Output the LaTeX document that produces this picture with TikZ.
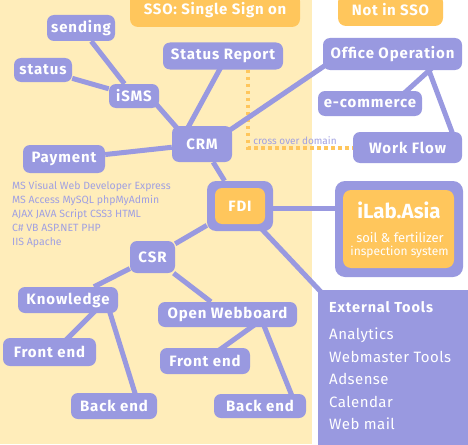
\documentclass[tikz,border=0pt]{standalone}
\usepackage{fontspec}
\setmainfont{Fira Sans}
\newfontfamily\lblfont{Fira Sans}[LetterSpace=6]
\newfontfamily\hdrfont{Fira Sans}[LetterSpace=5]
\newfontfamily\itemfont{Fira Sans}[LetterSpace=3]
\usetikzlibrary{backgrounds,calc}
\definecolor{pur}{HTML}{9999E0}
\definecolor{org}{HTML}{FFC65C}
\definecolor{ylw}{HTML}{FFEDBA}
\definecolor{techc}{HTML}{A0A0E2}
\begin{document}
\begin{tikzpicture}[x=1pt,y=-1pt,
  box/.style={fill=pur,rounded corners=7pt,inner sep=0pt,text=white,
    font=\lblfont\bfseries\fontsize{15}{15}\selectfont},
  hdr/.style={fill=org,rounded corners=8pt,inner sep=0pt,text=white,
    font=\hdrfont\bfseries\fontsize{15}{15}\selectfont},
  link/.style={draw=pur,line width=5pt},
  plain/.style={inner sep=0pt,text=white},
  tech/.style={inner sep=0pt,text=techc,font=\fontsize{10.5}{14}\selectfont,align=left}
]
\useasboundingbox (0,0) rectangle (468,444);
% header boxes
\node[hdr,minimum width=170pt,minimum height=34pt] (sso) at (215,10) {\raisebox{-3pt}{SSO: Single Sign on}};
\node[hdr,minimum width=105pt,minimum height=32pt] (notsso) at (390.5,10) {\raisebox{-3pt}{Not in SSO}};
% left nodes
\node[box,minimum width=68pt,minimum height=26pt] (sending) at (81,28) {sending};
\node[box,minimum width=58pt,minimum height=24pt] (status) at (43,70) {status};
\node[box,minimum width=50pt,minimum height=24pt] (isms) at (134,96) {iSMS};
\node[box,minimum width=120pt,minimum height=27pt] (statusreport) at (223,56) {Status Report};
\node[box,minimum width=60pt,minimum height=36pt] (crm) at (202,144) {CRM};
\node[box,minimum width=82pt,minimum height=28pt] (payment) at (64,159) {Payment};
\node[tech,anchor=north west] (techlist) at (12,181) {MS Visual Web Developer Express\\MS Access MySQL phpMyAdmin\\AJAX JAVA Script CSS3 HTML\\C\# VB ASP.NET PHP\\IIS Apache};
% right upper
\node[box,minimum width=139pt,minimum height=32pt] (office) at (392.5,54) {Office Operation};
\node[box,minimum width=104pt,minimum height=25pt] (ecom) at (370,103.5) {e-commerce};
\node[box,minimum width=109pt,minimum height=31pt] (workflow) at (407.5,147.5) {Work Flow};
\node[inner sep=0pt,text=techc,font=\fontsize{10}{10}\selectfont] (cod) at (295,141) {cross over domain};
% FDI
\node[fill=pur,rounded corners=9pt,minimum width=66pt,minimum height=50pt] (fdi) at (240,206) {};
\node[fill=org,rounded corners=7pt,minimum width=50pt,minimum height=36pt,inner sep=0pt,text=white,font=\lblfont\bfseries\fontsize{15}{15}\selectfont] (fdiin) at (240,206) {FDI};
% iLab
\node[fill=pur,rounded corners=10pt,minimum width=128pt,minimum height=96pt] (ilab) at (399,229) {};
\node[fill=org,rounded corners=8pt,minimum width=111pt,minimum height=78pt] (ilabin) at (398.5,229) {};
\node[plain,font=\bfseries\fontsize{20.5}{20.5}\selectfont] (ilabt) at (399,210) {iLab.Asia};
\node[plain,font=\fontsize{13}{13}\selectfont] (ilabs1) at (400,238) {soil \& fertilizer};
\node[plain,font=\fontsize{12}{12}\selectfont] (ilabs2) at (399.5,252) {inspection system};
% CSR tree
\node[box,minimum width=45pt,minimum height=32pt] (csr) at (152.5,257) {CSR};
\node[box,minimum width=100pt,minimum height=26pt] (knowledge) at (68,300) {Knowledge};
\node[box,minimum width=139pt,minimum height=25pt] (ow) at (227.5,314.5) {Open Webboard};
\node[box,minimum width=93pt,minimum height=28pt] (fel) at (49.5,352) {Front end};
\node[box,minimum width=90pt,minimum height=26pt] (fer) at (205,361) {Front end};
\node[box,minimum width=86pt,minimum height=26pt] (bel) at (114,406) {Back end};
\node[box,minimum width=92pt,minimum height=24pt] (ber) at (260,406) {Back end};
% External tools
\node[fill=pur,anchor=north west,minimum width=155pt,minimum height=160pt,inner sep=0pt] (ext) at (318,290) {};
\node[plain,anchor=west,font=\lblfont\bfseries\fontsize{14.5}{14.5}\selectfont] (extt) at (329,307) {External Tools};
\node[plain,anchor=west,font=\itemfont\fontsize{15}{15}\selectfont] (e1) at (329,335) {Analytics};
\node[plain,anchor=west,font=\itemfont\fontsize{15}{15}\selectfont] (e2) at (329,357) {Webmaster Tools};
\node[plain,anchor=west,font=\itemfont\fontsize{15}{15}\selectfont] (e3) at (329,379) {Adsense};
\node[plain,anchor=west,font=\itemfont\fontsize{15}{15}\selectfont] (e4) at (329,402) {Calendar};
\node[plain,anchor=west,font=\itemfont\fontsize{15}{15}\selectfont] (e5) at (329,424) {Web mail};
\begin{pgfonlayer}{background}
  \fill[white] (0,0) rectangle (468,444);
  \fill[ylw] (0,0) rectangle (312,444);
  \draw[org,line width=4pt,dash pattern=on 3.5pt off 3.5pt]
    ($(statusreport.south)+(25,0)$) |- (workflow.west);
  \draw[link] (sending) -- (isms);
  \draw[link] (status) -- (isms);
  \draw[link] ($(isms.center)+(15,0)$) -- ($(crm.center)+(-11,0)$);
  \draw[link] ($(statusreport.center)+(4,0)$) -- ($(crm.center)+(-23,0)$);
  \draw[link] ($(crm.center)+(0,5)$) -- ($(office.center)+(-52,1)$);
  \draw[link] ($(ecom.center)+(30,-6.5)$) -- ($(office.center)+(46,8)$);
  \draw[link] ($(office.center)+(32.5,6)$) -- ($(workflow.center)+(47.5,-7.5)$);
  \draw[link] (payment) -- (crm);
  \draw[link] (crm) -- (fdi);
  \draw[link] ($(fdi.center)+(0,2)$) -- ($(fdi.center -| ilab.center)+(0,2)$);
  \draw[link] (fdi) -- (csr);
  \draw[link] (fdi.center) -- ($(ext.north west)+(4,3)$);
  \draw[link] (csr) -- (knowledge);
  \draw[link] (csr) -- (ow);
  \draw[link] ($(knowledge.center)+(38,0)$) -- ($(fel.center)+(4.5,0)$);
  \draw[link] ($(knowledge.center)+(38,0)$) -- ($(bel.center)+(25,0)$);
  \draw[link] ($(ow.center)+(41.5,0)$) -- ($(fer.center)+(-1,0)$);
  \draw[link] ($(ow.center)+(32,0)$) -- ($(ber.center)+(36,0)$);
\end{pgfonlayer}
\end{tikzpicture}
\end{document}
